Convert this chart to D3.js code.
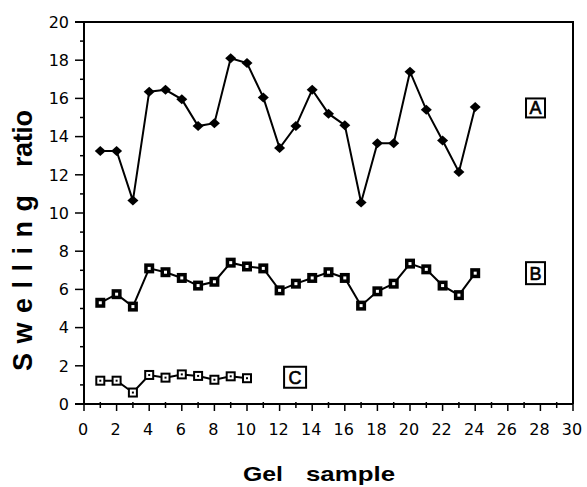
<!DOCTYPE html>
<html>
<head>
<meta charset="utf-8">
<script src="https://cdn.jsdelivr.net/npm/d3@7"></script>
<style>
    body { margin: 0; background: #fff; }
    svg { display: block; }
</style>
</head>
<body>
<svg id="chart" width="587" height="487"></svg>
<script>
// gel samples and swelling ratio
var samplesA = [1,2,3,4,5,6,7,8,9,10,11,12,13,14,15,16,17,18,19,20,21,22,23,24]
var ratioA = [13.25,13.25,10.65,16.35,16.45,15.95,14.55,14.7,18.1,17.85,16.05,13.4,14.55,16.45,15.2,14.6,10.55,13.65,13.65,17.4,15.4,13.8,12.15,15.55]
var samplesB = [1,2,3,4,5,6,7,8,9,10,11,12,13,14,15,16,17,18,19,20,21,22,23,24]
var ratioB = [5.3,5.75,5.1,7.1,6.9,6.6,6.2,6.4,7.4,7.2,7.1,5.95,6.3,6.6,6.9,6.6,5.15,5.9,6.3,7.35,7.05,6.2,5.7,6.85]
var samplesC = [1,2,3,4,5,6,7,8,9,10]
var ratioC = [1.22,1.22,0.6,1.52,1.38,1.55,1.47,1.27,1.45,1.35]
var xTickValues = [0,2,4,6,8,10,12,14,16,18,20,22,24,26,28,30]
var yTickValues = [0,2,4,6,8,10,12,14,16,18,20]
var curveNames = ['A', 'B', 'C']
var curveLabelX = [27.7, 27.7, 12.95]
var curveLabelY = [15.5, 6.85, 1.4]

var svg = d3.select('#chart')
var plotLeft = 84, plotRight = 573, plotTop = 22, plotBottom = 404

var x = d3.scaleLinear().domain([0, 30]).range([plotLeft, plotRight])
var y = d3.scaleLinear().domain([0, 20]).range([plotBottom, plotTop])

function pts(xs, ys) {
    return xs.map(function(v, i) { return [v, ys[i]] })
}

// frame: top and right sides
svg.append('path')
    .attr('d', 'M' + (plotLeft - 9) + ',' + plotTop + 'H' + plotRight + 'V' + plotBottom)
    .attr('fill', 'none').attr('stroke', '#000').attr('stroke-width', 2)

// y axis
var yAxis = svg.append('g').attr('transform', 'translate(' + plotLeft + ',0)')
yAxis.append('line').attr('y1', plotTop).attr('y2', plotBottom).attr('stroke', '#000').attr('stroke-width', 2)
d3.range(0, 21).forEach(function(v) {
    var major = v % 2 === 0
    yAxis.append('line')
        .attr('x1', major ? -9 : -4).attr('x2', 0)
        .attr('y1', y(v)).attr('y2', y(v))
        .attr('stroke', '#000').attr('stroke-width', 1.5)
})
yAxis.selectAll('text.tick-label')
    .data(yTickValues)
    .enter().append('text')
    .attr('class', 'tick-label')
    .attr('x', -15).attr('y', function(d) { return y(d) })
    .attr('dy', '0.36em')
    .attr('text-anchor', 'end')
    .style('font-family', 'DejaVu Sans')
    .style('font-size', '16px')
    .text(function(d) { return d })

// x axis
var xAxis = svg.append('g').attr('transform', 'translate(0,' + plotBottom + ')')
xAxis.append('line').attr('x1', plotLeft - 9).attr('x2', plotRight).attr('stroke', '#000').attr('stroke-width', 2)
d3.range(0, 31).forEach(function(v) {
    var major = v % 2 === 0
    xAxis.append('line')
        .attr('x1', x(v)).attr('x2', x(v))
        .attr('y1', major ? 0 : -2).attr('y2', major ? 7 : 4)
        .attr('stroke', '#000').attr('stroke-width', 1.5)
})
xAxis.selectAll('text.tick-label')
    .data(xTickValues)
    .enter().append('text')
    .attr('class', 'tick-label')
    .attr('x', function(d) { return x(d) - 1 }).attr('y', 31)
    .attr('text-anchor', 'middle')
    .style('font-family', 'DejaVu Sans')
    .style('font-size', '16px')
    .text(function(d) { return d })

// axis titles
function title(txt, tx, ty, len, size) {
    svg.append('text')
        .attr('x', tx).attr('y', ty)
        .attr('textLength', len).attr('lengthAdjust', 'spacingAndGlyphs')
        .style('font-family', 'Liberation Sans, Arial, sans-serif')
        .style('font-weight', 'bold')
        .style('font-size', size + 'px')
        .text(txt)
}
title('Gel', 243, 481, 40, 21)
title('sample', 306, 481, 89, 21)

var yTitle = svg.append('g').attr('transform', 'translate(32,0) rotate(-90)')
;[['Swelling', 371, 176], ['ratio', 167, 57]].forEach(function(w) {
    yTitle.append('text')
        .attr('x', -w[1]).attr('y', 0)
        .attr('textLength', w[2]).attr('lengthAdjust', 'spacing')
        .style('font-family', 'Liberation Sans, Arial, sans-serif')
        .style('font-weight', 'bold')
        .style('font-size', '27px')
        .text(w[0])
})

var line = d3.line()
    .x(function(d) { return x(d[0]) })
    .y(function(d) { return y(d[1]) })

// curve A: filled diamonds
var dataA = pts(samplesA, ratioA)
svg.append('path').datum(dataA).attr('d', line)
    .attr('fill', 'none').attr('stroke', '#000').attr('stroke-width', 2)
svg.selectAll('path.mark-a').data(dataA).enter().append('path')
    .attr('class', 'mark-a')
    .attr('d', d3.symbol().type(d3.symbolDiamond2).size(64))
    .attr('transform', function(d) { return 'translate(' + x(d[0]) + ',' + y(d[1]) + ') scale(1.1,1)' })
    .attr('fill', '#000')

// curve B: black squares with white centre
var dataB = pts(samplesB, ratioB)
svg.append('path').datum(dataB).attr('d', line)
    .attr('fill', 'none').attr('stroke', '#000').attr('stroke-width', 2)
var gB = svg.selectAll('g.mark-b').data(dataB).enter().append('g')
    .attr('class', 'mark-b')
    .attr('transform', function(d) { return 'translate(' + x(d[0]) + ',' + y(d[1]) + ')' })
gB.append('rect').attr('x', -5).attr('y', -5).attr('width', 10).attr('height', 10).attr('fill', '#000')
gB.append('rect').attr('x', -1.5).attr('y', -1.5).attr('width', 3).attr('height', 3).attr('fill', '#fff')

// curve C: open squares with dot
var dataC = pts(samplesC, ratioC)
svg.append('path').datum(dataC).attr('d', line)
    .attr('fill', 'none').attr('stroke', '#000').attr('stroke-width', 2)
var gC = svg.selectAll('g.mark-c').data(dataC).enter().append('g')
    .attr('class', 'mark-c')
    .attr('transform', function(d) { return 'translate(' + x(d[0]) + ',' + y(d[1]) + ')' })
gC.append('rect').attr('x', -4).attr('y', -4).attr('width', 8).attr('height', 8)
    .attr('fill', '#fff').attr('stroke', '#000').attr('stroke-width', 2)
gC.append('rect').attr('x', -1).attr('y', -1).attr('width', 2).attr('height', 2).attr('fill', '#000')

// boxed curve labels
var boxW = [19, 19, 22], boxH = [19, 22, 21]
curveNames.forEach(function(name, i) {
    var cx = x(curveLabelX[i]), cy = y(curveLabelY[i])
    svg.append('rect')
        .attr('x', cx - boxW[i] / 2).attr('y', cy - boxH[i] / 2)
        .attr('width', boxW[i]).attr('height', boxH[i])
        .attr('fill', '#fff').attr('stroke', '#000').attr('stroke-width', 2)
    svg.append('text')
        .attr('x', cx).attr('y', cy).attr('dy', '0.36em')
        .attr('text-anchor', 'middle')
        .style('font-family', 'Liberation Sans, Arial, sans-serif')
        .style('font-size', '18px')
        .attr('stroke', '#000').attr('stroke-width', 0.6)
        .text(name)
})
</script>
</body>
</html>
